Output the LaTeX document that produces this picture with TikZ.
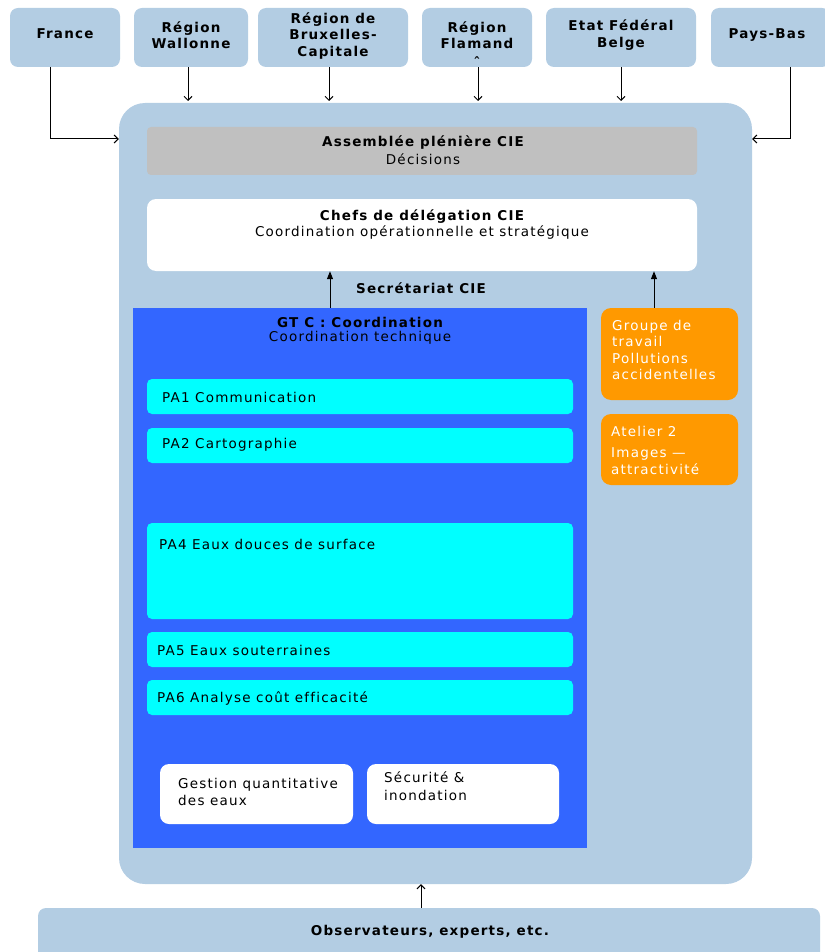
\documentclass[tikz,border=0pt]{standalone}
\usepackage{fontspec}
\setmainfont{DejaVu Sans}[LetterSpace=9,Ligatures=NoCommon]
\usetikzlibrary{arrows.meta}
\definecolor{lb}{RGB}{179,205,227}
\definecolor{gtblue}{RGB}{51,102,255}
\definecolor{cy}{RGB}{0,255,255}
\definecolor{orng}{RGB}{255,153,0}
\definecolor{gr}{RGB}{192,192,192}
\newcommand\mybox[6]{%
  \node[#2, inner sep=0pt, minimum width={(#5-#3)*1pt}, minimum height={(#6-#4)*1pt}] (#1) at ({(#3+#5)/2},{(#4+#6)/2}) {};}
\begin{document}
\begin{tikzpicture}[x=1pt,y=-1pt,
  topbox/.style={fill=lb, rounded corners=8pt},
  bigbox/.style={fill=lb, rounded corners=26pt},
  graybox/.style={fill=gr, rounded corners=4pt},
  whitebox/.style={fill=white, rounded corners=9pt},
  bluebox/.style={fill=gtblue},
  cybox/.style={fill=cy, rounded corners=5pt},
  orbox/.style={fill=orng, rounded corners=10pt},
  ttl/.style={font=\fontsize{13.5}{16.5}\selectfont\bfseries, align=center, inner sep=0pt},
  txt/.style={font=\fontsize{13.5}{17.5}\selectfont, align=left, inner sep=0pt},
  ctxt/.style={font=\fontsize{13.5}{16.5}\selectfont, align=center, inner sep=0pt},
  wtxt/.style={txt, text=white},
  arr/.style={-{Straight Barb[length=4pt,width=8pt]}, line width=1pt},
  uparr/.style={-{Triangle[length=8pt,width=6pt]}, line width=1pt}]
\useasboundingbox (0,0) rectangle (824,952);
% top boxes
\mybox{fr}{topbox}{10}{8}{120}{67}
\mybox{wal}{topbox}{134}{8}{248}{67}
\mybox{bxl}{topbox}{258}{8}{408}{67}
\mybox{fla}{topbox}{422}{8}{532}{67}
\mybox{etat}{topbox}{546}{8}{696}{67}
\mybox{pb}{topbox}{711}{8}{830}{67}
\node[ttl] (frt) at (65,34) {France};
\node[ttl] (walt) at (191,35) {Région\\Wallonne};
\node[ttl] (bxlt) at (333,36) {Région de\\Bruxelles-\\Capitale};
\node[ttl] (flat) at (477,35) {Région\\Flamand};
\node[ttl] (flac) at (477,62) {ˆ};
\node[ttl] (etatt) at (621,35) {Etat Fédéral\\Belge};
\node[ttl] (pbt) at (767,35) {Pays-Bas};
% big container
\mybox{big}{bigbox}{119}{103}{752}{884}
% arrows from top
\coordinate (yf) at (0,139);
\draw[arr] (50,67) |- (big.west |- yf);
\draw[arr] (wal.south -| 188,0) -- (188,101);
\draw[arr] (bxl.south -| 329,0) -- (329,101);
\draw[arr] (fla.south -| 478,0) -- (478,101);
\draw[arr] (etat.south -| 621,0) -- (621,101);
\draw[arr] (790,67) |- (big.east |- yf);
% assemblee
\mybox{ass}{graybox}{147}{127}{697}{175}
\node[ttl] (asst) at (423,143) {Assemblée plénière CIE};
\node[ctxt] (asst2) at (423,159) {Décisions};
% chefs
\mybox{chefs}{whitebox}{147}{199}{697}{271}
\node[ttl] (chefst) at (422,217) {Chefs de délégation CIE};
\node[ctxt] (chefst2) at (422,233) {Coordination opérationnelle et stratégique};
\node[ttl] (sec) at (421,288) {Secrétariat CIE};
% GT C
\mybox{gtc}{bluebox}{133}{308}{587}{848}
\node[ttl] (gtct) at (360,322) {GT C : Coordination};
\node[ctxt] (gtct2) at (360,338) {Coordination technique};
\mybox{pa1}{cybox}{147}{379}{573}{414}
\node[txt, anchor=west] (pa1t) at (162,397) {PA1 Communication};
\mybox{pa2}{cybox}{147}{428}{573}{463}
\node[txt, anchor=west] (pa2t) at (162,445) {PA2 Cartographie};
\mybox{pa4}{cybox}{147}{523}{573}{619}
\node[txt, anchor=west] (pa4t) at (159,544) {PA4 Eaux douces de surface};
\mybox{pa5}{cybox}{147}{632}{573}{667}
\node[txt, anchor=west] (pa5t) at (157,650) {PA5 Eaux souterraines};
\mybox{pa6}{cybox}{147}{680}{573}{715}
\node[txt, anchor=west] (pa6t) at (157,698) {PA6 Analyse coût efficacité};
\mybox{gq}{whitebox}{160}{764}{353}{824}
\node[txt, anchor=west] (gqt) at (178,792) {Gestion quantitative\\des eaux};
\mybox{si}{whitebox}{367}{764}{559}{824}
\node[txt, anchor=west] (sit) at (384,786) {Sécurité \&\\inondation};
% orange
\mybox{grp}{orbox}{601}{308}{738}{400}
\node[wtxt, anchor=west, font=\fontsize{13.5}{16.5}\selectfont] (grpt) at (612,350) {Groupe de\\travail\\Pollutions\\accidentelles};
\mybox{atl}{orbox}{601}{414}{738}{485}
\node[wtxt, anchor=west] (atlt) at (611,431) {Atelier 2};
\node[wtxt, anchor=west] (atlt2) at (611,461) {Images —\\attractivité};
% up arrows
\coordinate (s1) at (330,0);
\coordinate (s2) at (654,0);
\draw[uparr] (gtc.north -| s1) -- (chefs.south -| s1);
\draw[uparr] (grp.north -| s2) -- (chefs.south -| s2);
% bottom
\mybox{obs}{topbox}{38}{908}{820}{970}
\node[ttl] (obst) at (430,932) {Observateurs, experts, etc.};
\coordinate (s3) at (421,0);
\draw[arr] (obs.north -| s3) -- (big.south -| s3);
\end{tikzpicture}
\end{document}
